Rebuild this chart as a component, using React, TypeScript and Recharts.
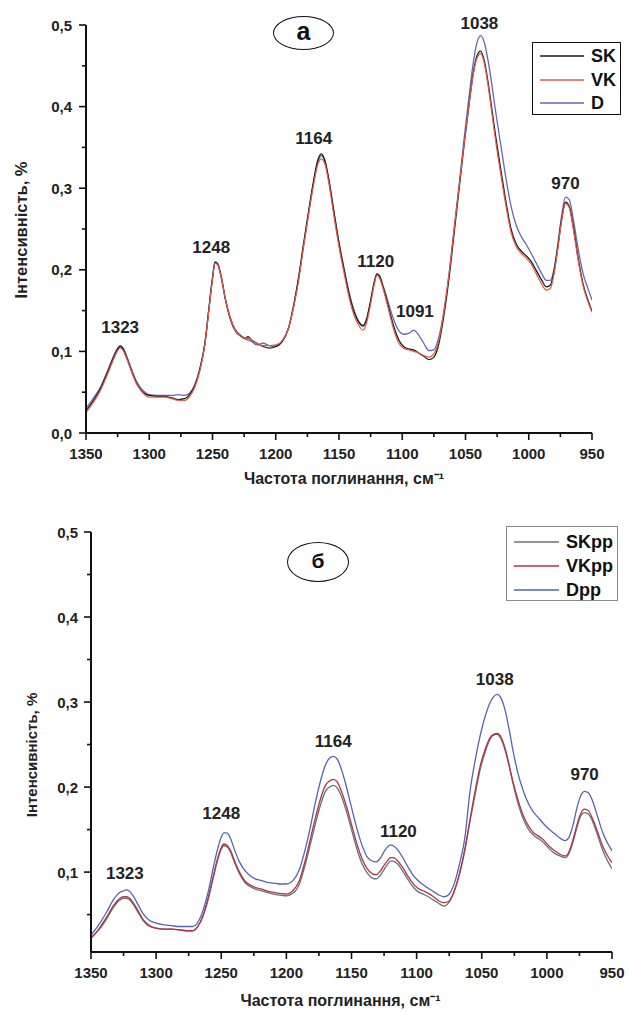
import React from 'react';
import { LineChart, Line, XAxis, YAxis, ReferenceDot, Legend } from 'recharts';

// wavenumbers, cm-1
const waveNumbers = [
  1350, 1344, 1338, 1333, 1328, 1325, 1323, 1321, 1318, 1314,
  1310, 1305, 1300, 1294, 1288, 1282, 1277, 1272, 1268, 1264,
  1260, 1256, 1253, 1250, 1248, 1246, 1243, 1240, 1236, 1232,
  1228, 1224, 1222, 1219, 1215, 1210, 1205, 1200, 1195, 1190,
  1186, 1182, 1178, 1174, 1170, 1167, 1164, 1161, 1158, 1154,
  1150, 1146, 1142, 1138, 1134, 1131, 1128, 1125, 1122, 1120,
  1118, 1115, 1111, 1107, 1103, 1099, 1095, 1091, 1087, 1083,
  1079, 1075, 1071, 1067, 1063, 1059, 1055, 1051, 1047, 1044,
  1041, 1038, 1035, 1032, 1029, 1026, 1022, 1018, 1014, 1010,
  1006, 1002, 998, 994, 990, 986, 983, 980, 977, 974,
  971, 968, 965, 961, 957, 953, 950,
];

// chart (а)
const skA = [
  0.027, 0.040, 0.056, 0.074, 0.093, 0.103, 0.106, 0.104, 0.093, 0.076,
  0.061, 0.050, 0.046, 0.045, 0.045, 0.043, 0.041, 0.042, 0.047, 0.058,
  0.078, 0.110, 0.150, 0.190, 0.209, 0.207, 0.190, 0.165, 0.140, 0.125,
  0.119, 0.116, 0.118, 0.114, 0.110, 0.106, 0.104, 0.106, 0.112, 0.128,
  0.155, 0.190, 0.232, 0.272, 0.310, 0.333, 0.342, 0.333, 0.310, 0.270,
  0.232, 0.200, 0.170, 0.148, 0.135, 0.131, 0.140, 0.162, 0.186, 0.195,
  0.192, 0.178, 0.155, 0.132, 0.115, 0.106, 0.103, 0.102, 0.098, 0.094,
  0.090, 0.093, 0.110, 0.145, 0.190, 0.245, 0.300, 0.355, 0.405, 0.440,
  0.462, 0.468, 0.455, 0.428, 0.395, 0.362, 0.322, 0.283, 0.250, 0.232,
  0.223, 0.217, 0.210, 0.199, 0.188, 0.179, 0.181, 0.198, 0.228, 0.262,
  0.283, 0.278, 0.255, 0.215, 0.182, 0.162, 0.149,
];
const vkA = [
  0.025, 0.038, 0.054, 0.072, 0.091, 0.101, 0.104, 0.102, 0.092, 0.075,
  0.060, 0.049, 0.044, 0.044, 0.044, 0.042, 0.040, 0.040, 0.045, 0.056,
  0.076, 0.108, 0.148, 0.188, 0.208, 0.206, 0.190, 0.166, 0.141, 0.126,
  0.119, 0.116, 0.116, 0.114, 0.110, 0.107, 0.107, 0.108, 0.113, 0.128,
  0.153, 0.186, 0.228, 0.268, 0.305, 0.328, 0.336, 0.329, 0.306, 0.266,
  0.228, 0.196, 0.166, 0.144, 0.131, 0.126, 0.136, 0.158, 0.183, 0.193,
  0.190, 0.176, 0.152, 0.128, 0.111, 0.104, 0.102, 0.100, 0.098, 0.095,
  0.093, 0.097, 0.114, 0.150, 0.195, 0.250, 0.303, 0.356, 0.405, 0.438,
  0.459, 0.465, 0.452, 0.424, 0.390, 0.356, 0.316, 0.278, 0.246, 0.229,
  0.220, 0.214, 0.207, 0.195, 0.183, 0.175, 0.177, 0.195, 0.226, 0.260,
  0.281, 0.276, 0.252, 0.212, 0.180, 0.160, 0.148,
];
const dA = [
  0.030, 0.043, 0.058, 0.076, 0.095, 0.104, 0.107, 0.105, 0.095, 0.078,
  0.063, 0.052, 0.047, 0.046, 0.046, 0.046, 0.047, 0.046, 0.049, 0.059,
  0.079, 0.110, 0.150, 0.190, 0.210, 0.208, 0.192, 0.166, 0.142, 0.127,
  0.120, 0.115, 0.114, 0.112, 0.108, 0.110, 0.107, 0.106, 0.112, 0.128,
  0.155, 0.189, 0.230, 0.270, 0.308, 0.330, 0.340, 0.332, 0.310, 0.272,
  0.234, 0.202, 0.172, 0.150, 0.136, 0.132, 0.141, 0.162, 0.185, 0.195,
  0.193, 0.180, 0.160, 0.140, 0.126, 0.121, 0.122, 0.126, 0.120, 0.110,
  0.101, 0.102, 0.118, 0.150, 0.195, 0.250, 0.305, 0.362, 0.415, 0.452,
  0.478, 0.487, 0.478, 0.455, 0.425, 0.392, 0.352, 0.312, 0.278, 0.255,
  0.241, 0.231, 0.220, 0.208, 0.196, 0.187, 0.187, 0.201, 0.232, 0.266,
  0.289, 0.286, 0.264, 0.226, 0.195, 0.176, 0.163,
];

// chart (б)
const skB = [
  0.023, 0.032, 0.045, 0.058, 0.067, 0.069, 0.069, 0.068, 0.063, 0.053,
  0.043, 0.036, 0.034, 0.033, 0.033, 0.032, 0.031, 0.031, 0.036, 0.048,
  0.068, 0.094, 0.113, 0.127, 0.131, 0.130, 0.124, 0.112, 0.098, 0.088,
  0.083, 0.080, 0.079, 0.078, 0.076, 0.074, 0.073, 0.072, 0.075, 0.086,
  0.106, 0.130, 0.155, 0.178, 0.195, 0.200, 0.202, 0.199, 0.190, 0.172,
  0.150, 0.128, 0.110, 0.099, 0.093, 0.092, 0.096, 0.103, 0.110, 0.113,
  0.113, 0.110, 0.102, 0.092, 0.083, 0.077, 0.074, 0.071, 0.067, 0.063,
  0.060, 0.065, 0.078, 0.098, 0.125, 0.160, 0.192, 0.222, 0.243, 0.255,
  0.261, 0.262, 0.256, 0.243, 0.225, 0.204, 0.180, 0.162, 0.150, 0.143,
  0.139, 0.134, 0.127, 0.122, 0.119, 0.117, 0.122, 0.135, 0.152, 0.166,
  0.170, 0.168, 0.160, 0.143, 0.125, 0.112, 0.104,
];
const vkB = [
  0.022, 0.033, 0.047, 0.060, 0.069, 0.071, 0.071, 0.070, 0.065, 0.055,
  0.044, 0.037, 0.034, 0.033, 0.033, 0.032, 0.031, 0.031, 0.036, 0.049,
  0.070, 0.096, 0.115, 0.129, 0.133, 0.132, 0.126, 0.114, 0.100, 0.090,
  0.085, 0.082, 0.081, 0.080, 0.078, 0.076, 0.075, 0.074, 0.078, 0.090,
  0.111, 0.136, 0.162, 0.185, 0.202, 0.207, 0.209, 0.206, 0.196, 0.178,
  0.156, 0.134, 0.116, 0.104, 0.098, 0.097, 0.101, 0.108, 0.114, 0.117,
  0.117, 0.114, 0.106, 0.096, 0.087, 0.081, 0.078, 0.075, 0.071, 0.066,
  0.064, 0.066, 0.078, 0.099, 0.127, 0.162, 0.196, 0.226, 0.246, 0.257,
  0.262, 0.263, 0.258, 0.245, 0.226, 0.206, 0.184, 0.166, 0.154, 0.146,
  0.142, 0.137, 0.130, 0.125, 0.121, 0.119, 0.124, 0.138, 0.155, 0.169,
  0.174, 0.172, 0.163, 0.147, 0.130, 0.118, 0.111,
];
const dB = [
  0.026, 0.038, 0.053, 0.067, 0.076, 0.078, 0.079, 0.078, 0.073, 0.062,
  0.051, 0.043, 0.040, 0.038, 0.037, 0.036, 0.036, 0.036, 0.041, 0.055,
  0.077, 0.106, 0.126, 0.141, 0.146, 0.146, 0.140, 0.127, 0.112, 0.102,
  0.096, 0.092, 0.091, 0.090, 0.088, 0.087, 0.086, 0.086, 0.090, 0.103,
  0.124, 0.150, 0.180, 0.206, 0.226, 0.234, 0.236, 0.233, 0.222, 0.201,
  0.176, 0.152, 0.132, 0.118, 0.113, 0.112, 0.116, 0.124, 0.130, 0.132,
  0.131, 0.127, 0.118, 0.107, 0.097, 0.090, 0.085, 0.081, 0.077, 0.073,
  0.071, 0.074, 0.087, 0.110, 0.140, 0.195, 0.232, 0.262, 0.285, 0.298,
  0.306, 0.309, 0.304, 0.290, 0.268, 0.243, 0.215, 0.195, 0.180, 0.170,
  0.163, 0.156, 0.150, 0.145, 0.140, 0.137, 0.141, 0.155, 0.175, 0.190,
  0.195, 0.193, 0.184, 0.165, 0.146, 0.133, 0.125,
];

const seriesNamesA = ['SK', 'VK', 'D'];
const seriesColorsA = ['#1b1b1b', '#e65a45', '#6666b8'];
const seriesNamesB = ['SKpp', 'VKpp', 'Dpp'];
const seriesColorsB = ['#667180', '#b03445', '#5464b2'];

const xTicks = [1350, 1325, 1300, 1275, 1250, 1225, 1200, 1175, 1150, 1125, 1100, 1075, 1050, 1025, 1000, 975, 950];
const yTicksA = [0, 0.05, 0.1, 0.15, 0.2, 0.25, 0.3, 0.35, 0.4, 0.45, 0.5];
const yTicksB = [0.05, 0.1, 0.15, 0.2, 0.25, 0.3, 0.35, 0.4, 0.45, 0.5];

const peakTextA = ['1323', '1248', '1164', '1120', '1091', '1038', '970'];
const peakXA = [1323, 1251, 1170, 1121, 1090, 1039, 971];
const peakYA = [0.130, 0.228, 0.3615, 0.211, 0.1495, 0.502, 0.306];

const peakTextB = ['1323', '1248', '1164', '1120', '1038', '970'];
const peakXB = [1324, 1250, 1164, 1114, 1040, 971];
const peakYB = [0.099, 0.169, 0.254, 0.148, 0.327, 0.215];

const xTitle = 'Частота поглинання, см⁻¹';
const yTitle = 'Інтенсивність, %';

const FONT = "'Liberation Sans', Arial, Helvetica, sans-serif";

const dataA = waveNumbers.map((x, i) => ({ x, SK: skA[i], VK: vkA[i], D: dA[i] }));
const dataB = waveNumbers.map((x, i) => ({ x, SKpp: skB[i], VKpp: vkB[i], Dpp: dB[i] }));

const fmt = (v: number) => v.toFixed(1).replace('.', ',');

const YTick = (props: any) => {
  const { x, y, payload, gap } = props;
  const v = payload.value as number;
  const major = Math.abs(v * 10 - Math.round(v * 10)) < 1e-6;
  return (
    <g>
      <line x1={x - (major ? 7 : 4)} x2={x} y1={y} y2={y} stroke="#111" strokeWidth={1.6} />
      {major && (
        <text x={x - gap} y={y} textAnchor="end" dominantBaseline="central" fontSize={15} fontWeight={700} fill="#222" fontFamily={FONT}>
          {fmt(v)}
        </text>
      )}
    </g>
  );
};

const XTick = (props: any) => {
  const { x, y, payload } = props;
  const v = payload.value as number;
  const major = v % 50 === 0;
  return (
    <g>
      <line x1={x} x2={x} y1={y} y2={y + (major ? 7 : 4)} stroke="#111" strokeWidth={1.6} />
      {major && (
        <text x={x} y={y + 20} textAnchor="middle" dominantBaseline="central" fontSize={15} fontWeight={700} fill="#222" fontFamily={FONT}>
          {String(v)}
        </text>
      )}
    </g>
  );
};

const makeXTitle = (dx: number, dy: number) => (p: any) => {
  const vb = p.viewBox;
  return (
    <text x={vb.x + vb.width / 2 + dx} y={vb.y + dy} textAnchor="middle" fontSize={16} fontWeight={700} fill="#222" fontFamily={FONT}>
      {xTitle}
    </text>
  );
};

const makeYTitle = (cx: number, cy: number, size: number) => () => (
  <text x={cx} y={cy} transform={`rotate(-90, ${cx}, ${cy})`} textAnchor="middle" dominantBaseline="central" fontSize={size} fontWeight={700} fill="#222" fontFamily={FONT}>
    {yTitle}
  </text>
);

const makeLegend = (order: string[], box: any) => (props: any) => {
  const payload = (props.payload || []) as any[];
  const items = order.map((n) => payload.find((p) => p.value === n)).filter(Boolean);
  return (
    <div
      style={{
        width: box.w,
        height: box.h,
        boxSizing: 'border-box',
        border: box.border,
        background: '#fff',
        position: 'relative',
        fontFamily: FONT,
      }}
    >
      {items.map((it: any, i: number) => (
        <div key={it.value} style={{ position: 'absolute', left: 0, top: box.rows[i] - 11, height: 22, display: 'flex', alignItems: 'center' }}>
          <svg width={box.lineEnd + 2} height={22} style={{ display: 'block' }}>
            <line x1={box.lineStart} x2={box.lineEnd} y1={11} y2={11} stroke={it.color} strokeWidth={1.6} />
          </svg>
          <span style={{ marginLeft: box.textGap, fontSize: box.font, fontWeight: 700, color: '#111', lineHeight: '22px', whiteSpace: 'nowrap' }}>{it.value}</span>
        </div>
      ))}
    </div>
  );
};

const legendA = makeLegend(seriesNamesA, {
  w: 89, h: 73, border: '1.6px solid #111', rows: [13, 37, 60], lineStart: 7, lineEnd: 51, textGap: 5, font: 18,
});
const legendB = makeLegend(seriesNamesB, {
  w: 112, h: 75, border: '1.3px solid #8a8a8a', rows: [15, 39, 63], lineStart: 7, lineEnd: 52, textGap: 5, font: 18,
});

const ellipse = (left: number, top: number, w: number, h: number, text: string, size: number) => (
  <div
    style={{
      position: 'absolute',
      left,
      top,
      width: w,
      height: h,
      boxSizing: 'border-box',
      border: '1.4px solid #111',
      borderRadius: '50%',
      display: 'flex',
      alignItems: 'center',
      justifyContent: 'center',
      fontFamily: FONT,
      fontWeight: 700,
      fontSize: size,
      color: '#111',
      lineHeight: 1,
      background: 'transparent',
    }}
  >
    <span style={{ marginTop: -3 }}>{text}</span>
  </div>
);

const axisLine = { stroke: '#111', strokeWidth: 2 };

export default function App() {
  return (
    <div style={{ position: 'absolute', left: 0, top: 0, width: 632, height: 1014, background: '#fff', fontFamily: FONT, overflow: 'hidden' }}>
      <div style={{ position: 'absolute', left: 0, top: 0 }}>
        <LineChart width={632} height={500} data={dataA} margin={{ top: 25, right: 40, left: 26, bottom: 37 }}>
          <XAxis
            dataKey="x"
            type="number"
            domain={[950, 1350]}
            reversed
            ticks={xTicks}
            interval={0}
            height={30}
            axisLine={axisLine}
            tickLine={false}
            tickSize={0}
            tickMargin={0}
            tick={<XTick />}
            allowDataOverflow
            label={{ content: makeXTitle(5, 51) }}
          />
          <YAxis
            type="number"
            domain={[0, 0.5]}
            ticks={yTicksA}
            interval={0}
            width={60}
            axisLine={axisLine}
            tickLine={false}
            tickSize={0}
            tickMargin={0}
            tick={<YTick gap={14} />}
            allowDataOverflow
            label={{ content: makeYTitle(21, 230, 16.5) }}
          />
          <Legend
            layout="vertical"
            align="center"
            verticalAlign="middle"
            width={89}
            height={73}
            wrapperStyle={{ left: 532, top: 42, width: 89, height: 73 }}
            content={legendA}
          />
          <Line dataKey="D" name="D" type="monotone" stroke={seriesColorsA[2]} strokeWidth={1.3} dot={false} isAnimationActive={false} />
          <Line dataKey="SK" name="SK" type="monotone" stroke={seriesColorsA[0]} strokeWidth={1.3} dot={false} isAnimationActive={false} />
          <Line dataKey="VK" name="VK" type="monotone" stroke={seriesColorsA[1]} strokeWidth={1.2} dot={false} isAnimationActive={false} />
          {peakTextA.map((t, i) => (
            <ReferenceDot
              key={t}
              x={peakXA[i]}
              y={peakYA[i]}
              r={0}
              fill="none"
              stroke="none"
              ifOverflow="visible"
              label={{ value: t, position: 'center', fontSize: 17, fontWeight: 700, fill: '#222', fontFamily: FONT }}
            />
          ))}
        </LineChart>
      </div>
      {ellipse(273, 16, 61, 34, 'а', 25)}

      <div style={{ position: 'absolute', left: 0, top: 500 }}>
        <LineChart width={632} height={520} data={dataB} margin={{ top: 32, right: 20, left: 31, bottom: 38 }}>
          <XAxis
            dataKey="x"
            type="number"
            domain={[950, 1350]}
            reversed
            ticks={xTicks}
            interval={0}
            height={30}
            axisLine={axisLine}
            tickLine={false}
            tickSize={0}
            tickMargin={0}
            tick={<XTick />}
            allowDataOverflow
            label={{ content: makeXTitle(-11, 54) }}
          />
          <YAxis
            type="number"
            domain={[0.006, 0.5]}
            ticks={yTicksB}
            interval={0}
            width={60}
            axisLine={axisLine}
            tickLine={false}
            tickSize={0}
            tickMargin={0}
            tick={<YTick gap={13} />}
            allowDataOverflow
            label={{ content: makeYTitle(31, 255, 15) }}
          />
          <Legend
            layout="vertical"
            align="center"
            verticalAlign="middle"
            width={112}
            height={75}
            wrapperStyle={{ left: 506, top: 26, width: 112, height: 75 }}
            content={legendB}
          />
          <Line dataKey="SKpp" name="SKpp" type="monotone" stroke={seriesColorsB[0]} strokeWidth={1.3} dot={false} isAnimationActive={false} />
          <Line dataKey="VKpp" name="VKpp" type="monotone" stroke={seriesColorsB[1]} strokeWidth={1.3} dot={false} isAnimationActive={false} />
          <Line dataKey="Dpp" name="Dpp" type="monotone" stroke={seriesColorsB[2]} strokeWidth={1.3} dot={false} isAnimationActive={false} />
          {peakTextB.map((t, i) => (
            <ReferenceDot
              key={t}
              x={peakXB[i]}
              y={peakYB[i]}
              r={0}
              fill="none"
              stroke="none"
              ifOverflow="visible"
              label={{ value: t, position: 'center', fontSize: 17, fontWeight: 700, fill: '#222', fontFamily: FONT }}
            />
          ))}
        </LineChart>
      </div>
      {ellipse(287, 542, 62, 40, 'б', 21)}
    </div>
  );
}
